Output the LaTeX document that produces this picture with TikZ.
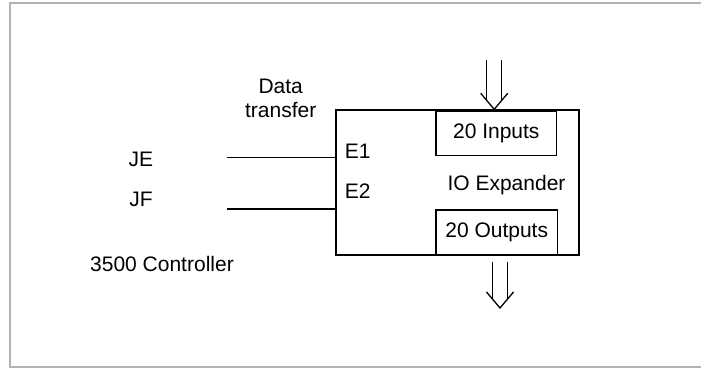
\documentclass[tikz,border=0pt]{standalone}
\usepackage{fontspec}
\setmainfont{Liberation Sans}
\usetikzlibrary{positioning}
% double-line arrow with an open V head, from tail #1 down to tip #2
\newcommand{\ioarrow}[2]{%
  \draw[arrowline] ([xshift=-7.5pt]#1)--([xshift=-7.5pt,yshift=9pt]#2);%
  \draw[arrowline] ([xshift=7.5pt]#1)--([xshift=7.5pt,yshift=9pt]#2);%
  \draw[arrowline] ([xshift=-13.5pt,yshift=16pt]#2)--(#2)--([xshift=13.5pt,yshift=16pt]#2);%
}
\tikzset{
  box/.style={draw,line width=1.8pt,inner sep=0pt},
  wire/.style={line width=1.5pt},
  arrowline/.style={line width=1.3pt},
  lbl/.style={inner sep=0pt,anchor=base},
}

\begin{document}
\begin{tikzpicture}[x=1pt,y=-1pt,font=\fontsize{21}{24.5}\selectfont]
  \useasboundingbox (0,0) rectangle (701,377);
  \draw[black!30,line width=1.5pt] (702,3)--(10,3)--(10,367)--(702,367);

  \node[box,minimum width=243pt,minimum height=145pt] (expander) at (457.5,182.7) {};
  \node[box,minimum width=120.5pt,minimum height=44.5pt] (inbox) at (496.3,133.2) {20 Inputs};
  \node[box,minimum width=121.5pt,minimum height=45.5pt] (outbox) at (496.7,232.7) {20 Outputs};
  \node[lbl] (iolbl) at (506.5,190.5) {IO Expander};
  \node[lbl] (e1) at (357.6,158.2) {E1};
  \node[lbl] (e2) at (357.6,198.5) {E2};

  \node[lbl] (je) at (140.8,166.8) {JE};
  \node[lbl] (jf) at (141,206.5) {JF};
  \node[lbl] (ctrl) at (162,271.5) {3500 Controller};
  \node[inner sep=0pt,anchor=north,align=center] (xfer) at (280.7,78.5) {Data\\transfer};

  \coordinate (jeend) at (226.6,157.3);
  \coordinate (jfend) at (226.6,209);
  \draw[wire] (jeend)--(jeend -| expander.west);
  \draw[wire] (jfend)--(jfend -| expander.west);

  \coordinate (intop) at (494.2,60);
  \coordinate (intip) at (intop |- expander.north);
  \ioarrow{intop}{intip}
  \coordinate (outtop) at (500,261.7);
  \coordinate (outtip) at (500,308);
  \ioarrow{outtop}{outtip}
\end{tikzpicture}
\end{document}
